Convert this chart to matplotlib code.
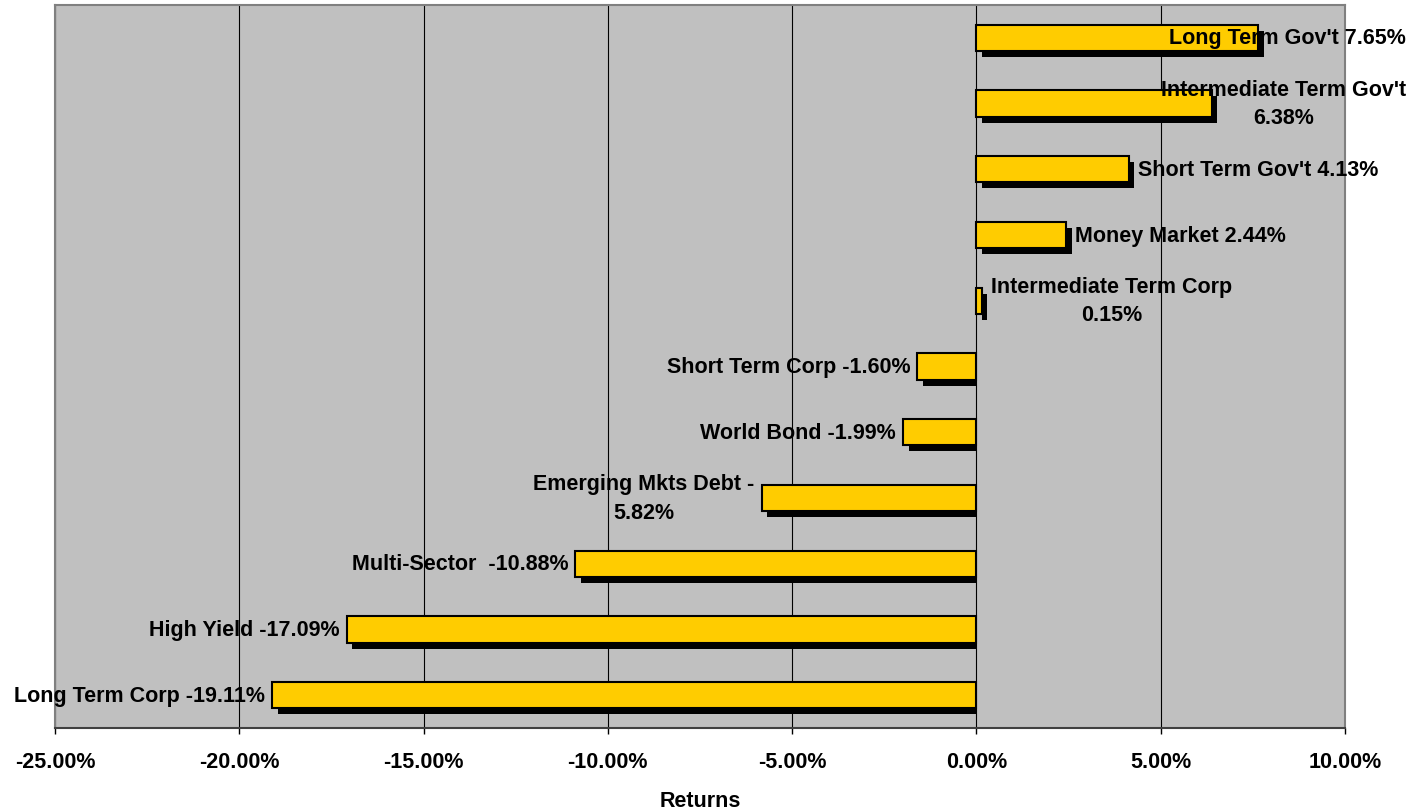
import matplotlib.pyplot as plt
from matplotlib.patches import Rectangle
from matplotlib.transforms import offset_copy
from matplotlib.ticker import FuncFormatter

plt.rcParams['font.family'] = ['Liberation Sans', 'DejaVu Sans']

# bond fund categories, bottom to top
categories = [
    "Long Term Corp", "High Yield", "Multi-Sector ", "Emerging Mkts Debt",
    "World Bond", "Short Term Corp", "Intermediate Term Corp",
    "Money Market", "Short Term Gov't", "Intermediate Term Gov't",
    "Long Term Gov't",
]
returns = [-19.11, -17.09, -10.88, -5.82, -1.99, -1.60, 0.15,
           2.44, 4.13, 6.38, 7.65]
x_ticks = [-25, -20, -15, -10, -5, 0, 5, 10]

# labels that get wrapped or pushed away from the bar end
# (text, ha, x offset in pixels from bar end)
label_layout = {
    "Long Term Gov't": ("Long Term Gov't 7.65%", 'right', 147),
    "Intermediate Term Gov't": ("Intermediate Term Gov't\n6.38%", 'center', 72),
    "Intermediate Term Corp": ("Intermediate Term Corp\n0.15%", 'center', 130),
    "Emerging Mkts Debt": ("Emerging Mkts Debt -\n5.82%", 'center', -118),
}
FS = 15.5

fig = plt.figure(figsize=(14.12, 8.10), dpi=100)
ax = fig.add_axes([55 / 1412, 1 - 728 / 810, 1290 / 1412, 723 / 810])
ax.set_facecolor('#C0C0C0')
ax.set_xlim(-25, 10)
ax.set_ylim(-0.5, len(categories) - 0.5)

ypos = list(range(len(categories)))

# drop shadows: same bars shifted right/down, cut at the zero line for negatives
shadow_tf = offset_copy(ax.transData, fig=fig, x=5.5, y=-6, units='dots')
shadows = ax.barh(ypos, returns, height=0.4, color='black',
                  transform=shadow_tf, zorder=2)
for s, val in zip(shadows, returns):
    if val < 0:
        clip = Rectangle((-25, -0.5), 25, len(categories),
                         transform=ax.transData)
        s.set_clip_path(clip)

bars = ax.barh(ypos, returns, height=0.4, color='#FFCC00',
               edgecolor='black', linewidth=1.5, zorder=3)

for y, cat, val in zip(ypos, categories, returns):
    if cat in label_layout:
        text, ha, dx = label_layout[cat]
    elif val >= 0:
        text, ha, dx = f"{cat} {val:.2f}%", 'left', 9
    else:
        text, ha, dx = f"{cat} {val:.2f}%", 'right', -7
    ax.annotate(text, xy=(val, y), xytext=(dx, -1), textcoords='offset pixels',
                ha=ha, va='center', fontsize=FS, fontweight='bold',
                linespacing=1.45, annotation_clip=False, zorder=5)

ax.set_xticks(x_ticks)
ax.xaxis.set_major_formatter(FuncFormatter(lambda v, p: f"{v:.2f}%"))
ax.set_yticks([])
ax.grid(axis='x', color='black', linewidth=0.8, zorder=1)
ax.set_axisbelow(True)

for sp in ax.spines.values():
    sp.set_color('#808080')
    sp.set_linewidth(1.5)
ax.spines['bottom'].set_color('#404040')

ax.tick_params(axis='x', length=4, width=1, pad=13.5, labelsize=FS)
for lbl in ax.get_xticklabels():
    lbl.set_fontweight('bold')

ax.set_xlabel('Returns', fontsize=FS, fontweight='bold', labelpad=12.5)

fig.savefig('out.png', dpi=100)
